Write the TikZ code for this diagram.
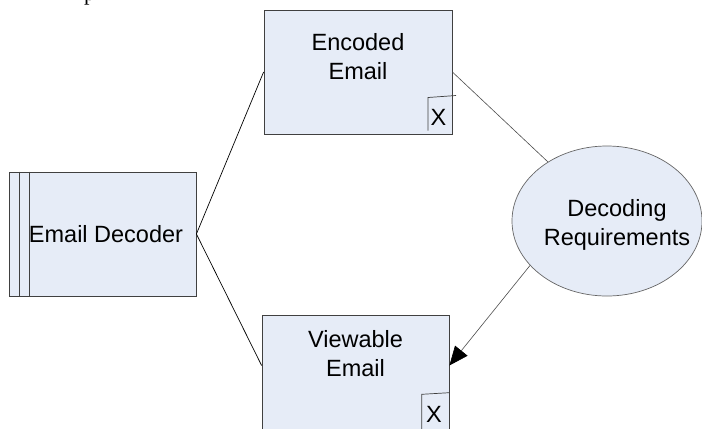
\documentclass[tikz,border=0pt]{standalone}
\usepackage{fontspec}
\setmainfont{Liberation Sans}
\newfontfamily\serifcut{Liberation Serif}
\usetikzlibrary{shapes.geometric,arrows.meta}
\definecolor{boxfill}{HTML}{E6ECF7}
\definecolor{boxline}{HTML}{404040}
\begin{document}
\begin{tikzpicture}[x=1bp,y=-1bp,
  box/.style={draw=boxline,fill=boxfill,line width=0.8bp,rectangle,inner sep=0pt},
  oval/.style={draw=gray!80!black,fill=boxfill,line width=0.7bp,ellipse,inner sep=0pt,minimum width=190bp,minimum height=150bp},
  txt/.style={font=\fontsize{23.5bp}{28.5bp}\selectfont,align=center,inner sep=0pt,anchor=base},
  link/.style={draw=black,line width=0.7bp},
  thin/.style={draw=gray!60!black,line width=0.6bp},
  xmark/.style={draw=boxline,line width=0.7bp}]
\useasboundingbox (0,0) rectangle (702,428);
% cut-off text at top edge
\node[font=\serifcut\fontsize{22bp}{26bp}\selectfont,inner sep=0pt,anchor=base west] (cut) at (84,0) {p};
% Email Decoder
\node[box,minimum width=187bp,minimum height=124bp] (ed) at (102.5,234) {};
\draw[boxline,line width=0.8bp] (ed.north west) ++(10.5,0) coordinate (l1t) -- (l1t |- ed.south);
\draw[boxline,line width=0.8bp] (ed.north west) ++(20.5,0) coordinate (l2t) -- (l2t |- ed.south);
\node[txt] (edt) at (106,242) {Email Decoder};
% Encoded Email
\node[box,minimum width=188bp,minimum height=124bp] (enc) at (358,72) {};
\node[txt] (enct) at (358,79) {Encoded\\Email};
\coordinate (encx1) at (428,130.5);
\coordinate (encx2) at (428,97.5);
\coordinate (encx3) at (456,95.5);
\draw[xmark] (encx1) -- (encx2) -- (encx3);
\node[txt] (encx) at (438.5,125) {X};
% Viewable Email
\node[box,minimum width=187bp,minimum height=124bp] (vw) at (355.5,377) {};
\node[txt] (vwt) at (355.5,376) {Viewable\\Email};
\coordinate (vwx1) at (421.7,440);
\coordinate (vwx2) at (421.7,394.3);
\coordinate (vwx3) at (449,392.7);
\draw[xmark] (vwx1) -- (vwx2) -- (vwx3);
\node[txt] (vwx) at (434,422.5) {X};
% Decoding Requirements
\node[oval] (dr) at (607,221) {};
\node[txt] (drt) at (617,245) {Decoding\\Requirements};
% connectors
\draw[link] (ed.east) -- (enc.west);
\draw[link] (ed.east) -- (vw.173.7);
\draw[thin] (enc.east) -- (dr.135.5);
\draw[thin,-{Triangle[length=19bp,width=16bp,color=black]}] (dr.210.9) -- (vw.7.3);
\end{tikzpicture}
\end{document}
